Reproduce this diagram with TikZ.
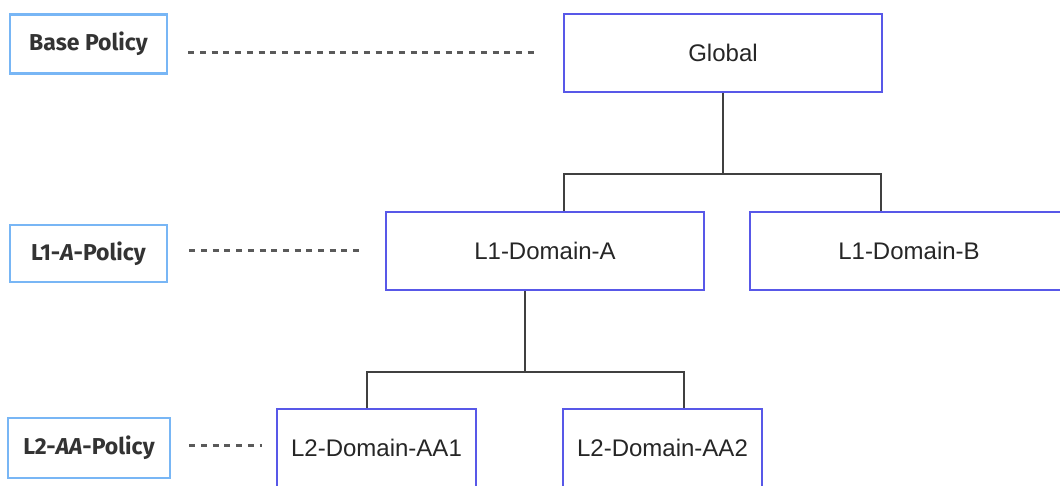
\documentclass[tikz,border=0pt]{standalone}
\usepackage{fontspec}
\setmainfont{Liberation Sans}
\newfontfamily\polfont{Fira Sans}
\usetikzlibrary{calc}

\definecolor{domblue}{RGB}{88,88,232}
\definecolor{polblue}{RGB}{120,182,245}
\definecolor{linkgray}{RGB}{64,64,64}
\definecolor{guidegray}{RGB}{90,90,90}

\tikzset{
    dombox/.style={draw=domblue, line width=1.8pt, fill=white, minimum height=78pt,
        text=black!85, font=\fontsize{24}{28}\selectfont, inner sep=0pt},
    polbox/.style={draw=polblue, line width=2.6pt, fill=white, inner sep=0pt,
        text=black!80, font=\polfont\bfseries\fontsize{23}{27}\selectfont},
    link/.style={draw=linkgray, line width=1.8pt},
    guide/.style={draw=guidegray, line width=3pt, dash pattern=on 6pt off 5.7pt}
}

\begin{document}
\begin{tikzpicture}[x=1pt, y=-1pt]
            \useasboundingbox (0,0) rectangle (1060,486);

            % domain tree
            \node[dombox, minimum width=318pt] (global) at (723,53) {Global};
            \node[dombox, minimum width=318pt] (l1a) at (545,251) {L1-Domain-A};
            \node[dombox, minimum width=318pt] (l1b) at (909,251) {L1-Domain-B};
            \node[dombox, minimum width=199pt] (aa1) at (376.5,448) {L2-Domain-AA1};
            \node[dombox, minimum width=199pt] (aa2) at (662.5,448) {L2-Domain-AA2};

            % policies
            \node[polbox, minimum width=157pt, minimum height=59pt] (basepol) at (88.5,44) {Base Policy};
            \node[polbox, minimum width=157pt, minimum height=57pt] (l1pol) at (88.5,253.5) {L1-\textit{A}-Policy};
            \node[polbox, minimum width=162pt, minimum height=60pt] (l2pol) at (89,448) {L2-\textit{AA}-Policy};

            % tree links
            \coordinate (bus1) at ([yshift=-81pt]global.south);
            \coordinate (bus2) at ([xshift=-20pt, yshift=-81pt]l1a.south);
            \draw[link] (global.south) -- (bus1);
            \draw[link] ([xshift=19pt]l1a.north) |- (bus1) -| ([xshift=-28pt]l1b.north);
            \draw[link] ([xshift=-20pt]l1a.south) -- (bus2);
            \draw[link] ([xshift=-9.5pt]aa1.north) |- (bus2) -| ([xshift=21.5pt]aa2.north);

            % policy guides
            \draw[guide] (basepol.east |- global.west) ++(20pt,0) -- ([xshift=-26pt]global.west);
            \draw[guide] (l1pol.east |- l1a.west) ++(21pt,0) -- ([xshift=-26pt]l1a.west);
            \draw[guide] ([yshift=3pt]l2pol.east) ++(18pt,0) -- ([xshift=-14pt, yshift=3pt]aa1.west);
        \end{tikzpicture}
\end{document}
